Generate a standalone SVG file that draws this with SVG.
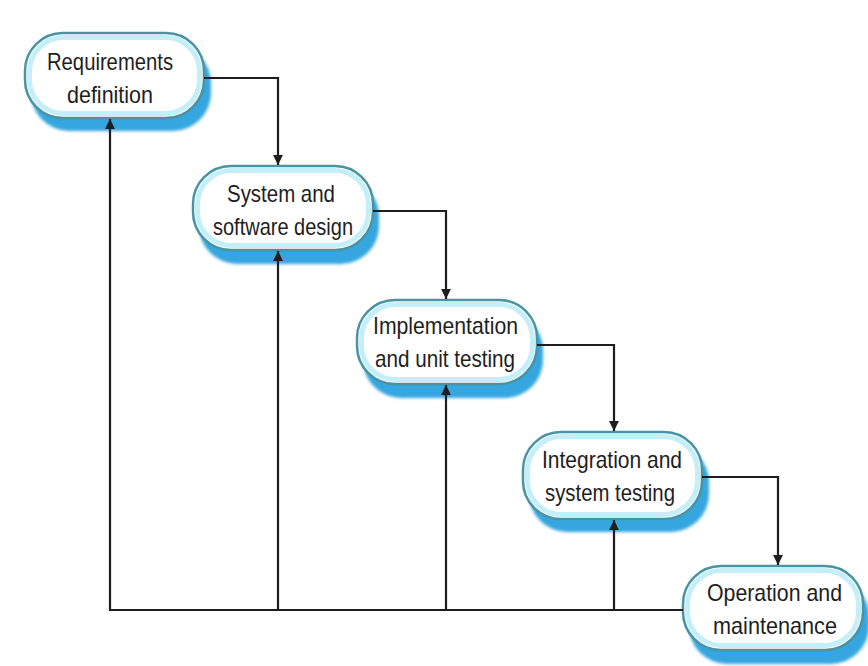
<svg xmlns="http://www.w3.org/2000/svg" width="868" height="666" viewBox="0 0 868 666">
  <style>
    .shadow { fill: #34a6df; filter: url(#blur); }
    .body { fill: #ffffff; stroke: #4a93a3; stroke-width: 2.5; }
    .glow { fill: none; stroke: #c4eef8; stroke-width: 5; }
    .lbl { font-family: "Liberation Sans", Arial, sans-serif; font-size: 24px; fill: #1e1e1e; text-anchor: middle; }
    .conn { fill: none; stroke: #1e1e1e; stroke-width: 2.2; }
  </style>
  <defs>
    <filter id="blur" x="-10%" y="-10%" width="120%" height="130%">
      <feGaussianBlur stdDeviation="1.5"/>
    </filter>
    <marker id="arrow" viewBox="0 0 10 10" refX="10" refY="5" markerWidth="4.5" markerHeight="5.5" markerUnits="strokeWidth" orient="auto">
      <path d="M0,0 L10,5 L0,10 Z" fill="#1e1e1e"/>
    </marker>
  </defs>
  <rect width="868" height="666" fill="#ffffff"/>

  <g id="node-requirements">
    <rect class="shadow" x="31" y="45" width="180" height="86" rx="38"/>
    <rect class="body" x="25" y="33" width="179" height="85" rx="38"/>
    <rect class="glow" x="29.5" y="37.5" width="170" height="76" rx="34"/>
    <text class="lbl" x="110" y="70" textLength="126" lengthAdjust="spacingAndGlyphs">Requirements</text>
    <text class="lbl" x="110" y="103" textLength="86" lengthAdjust="spacingAndGlyphs">definition</text>
  </g>

  <g id="node-design">
    <rect class="shadow" x="199" y="178" width="180" height="86" rx="38"/>
    <rect class="body" x="193" y="166" width="180" height="84" rx="38"/>
    <rect class="glow" x="197.5" y="170.5" width="171" height="75" rx="34"/>
    <text class="lbl" x="281" y="202" textLength="108" lengthAdjust="spacingAndGlyphs">System and</text>
    <text class="lbl" x="283" y="235" textLength="140" lengthAdjust="spacingAndGlyphs">software design</text>
  </g>

  <g id="node-implementation">
    <rect class="shadow" x="363" y="312" width="180" height="86" rx="38"/>
    <rect class="body" x="357" y="300" width="180" height="84" rx="38"/>
    <rect class="glow" x="361.5" y="304.5" width="171" height="75" rx="34"/>
    <text class="lbl" x="445.5" y="334" textLength="145" lengthAdjust="spacingAndGlyphs">Implementation</text>
    <text class="lbl" x="445" y="367" textLength="140" lengthAdjust="spacingAndGlyphs">and unit testing</text>
  </g>

  <g id="node-integration">
    <rect class="shadow" x="529" y="444" width="180" height="88" rx="38"/>
    <rect class="body" x="523" y="432" width="179" height="87" rx="38"/>
    <rect class="glow" x="527.5" y="436.5" width="170" height="78" rx="34"/>
    <text class="lbl" x="612" y="468" textLength="140" lengthAdjust="spacingAndGlyphs">Integration and</text>
    <text class="lbl" x="610" y="501" textLength="130" lengthAdjust="spacingAndGlyphs">system testing</text>
  </g>

  <g id="node-operation">
    <rect class="shadow" x="689" y="578" width="180" height="86" rx="38"/>
    <rect class="body" x="683" y="566" width="180" height="84" rx="38"/>
    <rect class="glow" x="687.5" y="570.5" width="171" height="75" rx="34"/>
    <text class="lbl" x="774.5" y="601" textLength="135" lengthAdjust="spacingAndGlyphs">Operation and</text>
    <text class="lbl" x="775" y="634" textLength="124" lengthAdjust="spacingAndGlyphs">maintenance</text>
  </g>

  <g id="connectors">
    <polyline class="conn" points="204,78 278,78 278,165" marker-end="url(#arrow)"/>
    <polyline class="conn" points="373,211 446,211 446,299" marker-end="url(#arrow)"/>
    <polyline class="conn" points="537,345 614,345 614,431" marker-end="url(#arrow)"/>
    <polyline class="conn" points="702,477 778,477 778,565" marker-end="url(#arrow)"/>
    <polyline class="conn" points="683,610 110,610 110,119" marker-end="url(#arrow)"/>
    <line class="conn" x1="278" y1="610" x2="278" y2="251" marker-end="url(#arrow)"/>
    <line class="conn" x1="446" y1="610" x2="446" y2="385" marker-end="url(#arrow)"/>
    <line class="conn" x1="614" y1="610" x2="614" y2="520" marker-end="url(#arrow)"/>
  </g>
</svg>
